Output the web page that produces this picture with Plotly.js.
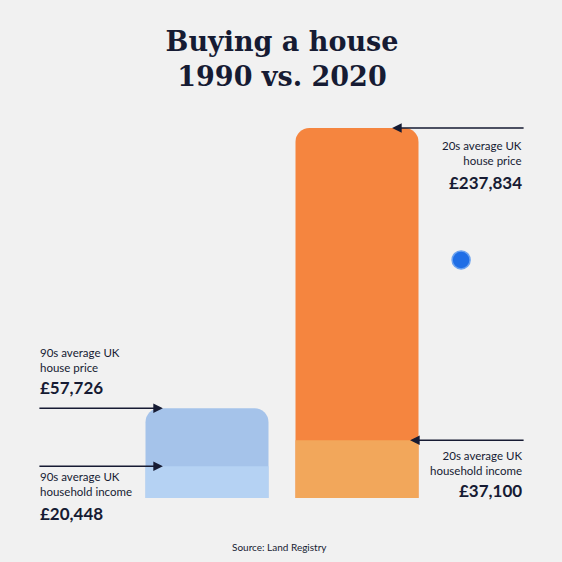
<!DOCTYPE html>
<html>
<head>
<meta charset="utf-8">
<script src="https://cdn.plot.ly/plotly-3.0.1.min.js"></script>
<style>html,body{margin:0;padding:0;background:#f1f1f1;}#chart{width:562px;height:562px;}</style>
</head>
<body>
<div id="chart"></div>
<script>
const periods = ["1990", "2020"];
const housePrice = [57726, 237834];
const householdIncome = [20448, 37100];
const priceLabels = ["£57,726", "£237,834"];
const incomeLabels = ["£20,448", "£37,100"];

const ink = "#161b33";
const sans = "Lato, 'Open Sans', sans-serif";

const traces = [
  {
    type: "bar", x: periods, y: housePrice, name: "Average UK house price",
    width: 0.82,
    marker: {color: ["#a5c3ea", "#f5853f"], cornerradius: 14, line: {width: 0}},
    hoverinfo: "none"
  },
  {
    type: "bar", x: periods, y: householdIncome, name: "Average UK household income",
    width: 0.82,
    marker: {color: ["#b5d2f3", "#f2a75b"], line: {width: 0}},
    hoverinfo: "none"
  }
];

const annotations = [
  // arrows pointing to bar levels
  {x: 0.103, xref: "paper", y: housePrice[0], yref: "y", ax: -125, ay: 0,
   showarrow: true, arrowhead: 2, arrowsize: 1.2, arrowwidth: 1.6, arrowcolor: ink, text: ""},
  {x: 0.103, xref: "paper", y: householdIncome[0], yref: "y", ax: -125, ay: 0,
   showarrow: true, arrowhead: 2, arrowsize: 1.2, arrowwidth: 1.6, arrowcolor: ink, text: ""},
  {x: 0.867, xref: "paper", y: housePrice[1], yref: "y", ax: 133, ay: 0,
   showarrow: true, arrowhead: 2, arrowsize: 1.2, arrowwidth: 1.6, arrowcolor: ink, text: ""},
  {x: 0.927, xref: "paper", y: householdIncome[1], yref: "y", ax: 115, ay: 0,
   showarrow: true, arrowhead: 2, arrowsize: 1.2, arrowwidth: 1.6, arrowcolor: ink, text: ""},
  // labels left
  {x: -0.313, xref: "paper", y: 0.355, yref: "paper", xanchor: "left", yanchor: "middle", align: "left",
   text: "90s average UK<br>house price", showarrow: false, font: {family: sans, size: 11.5, color: ink}},
  {x: -0.313, xref: "paper", y: 0.283, yref: "paper", xanchor: "left", yanchor: "middle", align: "left",
   text: "<b>" + priceLabels[0] + "</b>", showarrow: false, font: {family: sans, size: 17, color: ink}},
  {x: -0.313, xref: "paper", y: 0.036, yref: "paper", xanchor: "left", yanchor: "middle", align: "left",
   text: "90s average UK<br>household income", showarrow: false, font: {family: sans, size: 11.5, color: ink}},
  {x: -0.313, xref: "paper", y: -0.0386, yref: "paper", xanchor: "left", yanchor: "middle", align: "left",
   text: "<b>" + incomeLabels[0] + "</b>", showarrow: false, font: {family: sans, size: 17, color: ink}},
  // labels right
  {x: 1.307, xref: "paper", y: 0.887, yref: "paper", xanchor: "right", yanchor: "middle", align: "right",
   text: "20s average UK<br>house price", showarrow: false, font: {family: sans, size: 11.5, color: ink}},
  {x: 1.307, xref: "paper", y: 0.812, yref: "paper", xanchor: "right", yanchor: "middle", align: "right",
   text: "<b>" + priceLabels[1] + "</b>", showarrow: false, font: {family: sans, size: 17, color: ink}},
  {x: 1.307, xref: "paper", y: 0.09, yref: "paper", xanchor: "right", yanchor: "middle", align: "right",
   text: "20s average UK<br>household income", showarrow: false, font: {family: sans, size: 11.5, color: ink}},
  {x: 1.307, xref: "paper", y: 0.018, yref: "paper", xanchor: "right", yanchor: "middle", align: "right",
   text: "<b>" + incomeLabels[1] + "</b>", showarrow: false, font: {family: sans, size: 17, color: ink}},
  // source
  {x: 0.493, xref: "paper", y: -0.126, yref: "paper", xanchor: "center", yanchor: "middle",
   text: "Source: Land Registry", showarrow: false, font: {family: sans, size: 10, color: ink}}
];

const layout = {
  width: 562, height: 562,
  margin: {l: 132, r: 130, t: 109, b: 64},
  paper_bgcolor: "#f1f1f1", plot_bgcolor: "#f1f1f1",
  barmode: "overlay",
  showlegend: false,
  title: {
    text: "<b>Buying a house<br>1990 vs. 2020</b>",
    x: 0.5, xanchor: "center", y: 0.91, yanchor: "top", xref: "paper",
    font: {family: "'DejaVu Serif', 'Liberation Serif', serif", size: 27, color: ink}
  },
  xaxis: {type: "category", range: [-0.5, 1.5], showgrid: false, zeroline: false, showticklabels: false, showline: false, fixedrange: true},
  yaxis: {range: [0, 250000], showgrid: false, zeroline: false, showticklabels: false, showline: false, fixedrange: true},
  annotations: annotations,
  shapes: [
    {type: "circle", xref: "paper", yref: "paper", x0: 1.067, x1: 1.127, y0: 0.589, y1: 0.635,
     fillcolor: "#1f6ee6", line: {color: "#6aa2f0", width: 1.5}}
  ]
};

Plotly.newPlot("chart", traces, layout, {staticPlot: true, displayModeBar: false});
</script>
</body>
</html>
